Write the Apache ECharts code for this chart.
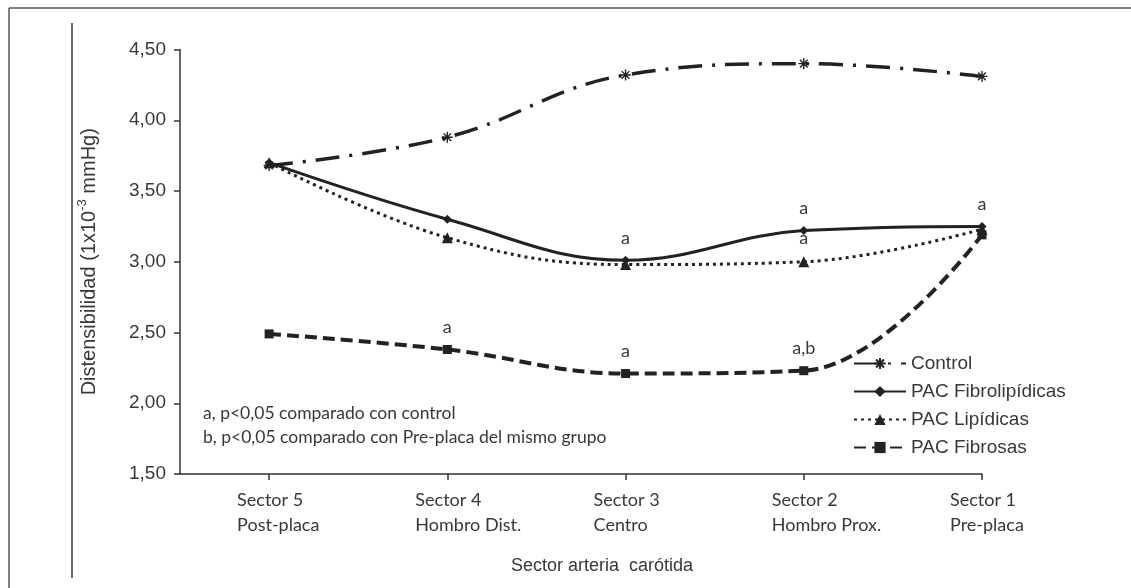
<!DOCTYPE html>
<html>
<head>
<meta charset="utf-8">
<script src="https://cdn.jsdelivr.net/npm/echarts@6/dist/echarts.min.js"></script>
<style>
  html, body { margin: 0; padding: 0; background: #fff; }
  #chart { width: 1131px; height: 588px; }
</style>
</head>
<body>
<div id="chart"></div>
<script>
const sectors = ["Sector 5", "Sector 4", "Sector 3", "Sector 2", "Sector 1"];
const sectorNames = ["Post-placa", "Hombro Dist.", "Centro", "Hombro Prox.", "Pre-placa"];
const yTicks = [1.5, 2.0, 2.5, 3.0, 3.5, 4.0, 4.5];

const control = [3.68, 3.88, 4.32, 4.40, 4.31];
const fibrolipidicas = [3.70, 3.30, 3.01, 3.22, 3.25];
const lipidicas = [3.70, 3.17, 2.98, 3.00, 3.23];
const fibrosas = [2.49, 2.38, 2.21, 2.23, 3.19];

// significance marks written above points
const fibrolipNotes = ["", "", "a", "a", "a"];
const lipNotes = ["", "", "", "a", ""];
const fibrosasNotes = ["", "a", "a", "a,b", ""];

const footNotes = [
  "a, p<0,05 comparado con control",
  "b, p<0,05 comparado con Pre-placa del mismo grupo",
];

const INK = "#222";
const TEXT = "#383838";
const ARIAL = "'Liberation Sans', Arial";
const ASTERISK = "path://M0,5L10,5M5,0L5,10M1.5,1.5L8.5,8.5M8.5,1.5L1.5,8.5";

function pointsOf(values, notes) {
  return values.map((v, i) => {
    const item = { value: [i, v] };
    if (notes && notes[i]) {
      item.label = { show: true, formatter: notes[i] };
    }
    return item;
  });
}

function noteLabel() {
  return {
    show: false,
    position: "top",
    distance: 9,
    color: TEXT,
    fontFamily: "Lato",
    fontSize: 18,
  };
}

function lineSeries(name, values, notes, symbol, size, lineType, width) {
  return {
    name,
    type: "line",
    smooth: 0.4,
    symbol,
    symbolSize: size,
    data: pointsOf(values, notes),
    lineStyle: { color: INK, width, type: lineType },
    itemStyle: { color: INK, borderColor: INK, borderWidth: symbol === ASTERISK ? 1.4 : 0 },
    label: noteLabel(),
    emphasis: { disabled: true },
  };
}

const chart = echarts.init(document.getElementById("chart"), null, { renderer: "canvas" });
chart.setOption({
  animation: false,
  backgroundColor: "#fff",
  grid: { left: 180, right: 149, top: 49.5, bottom: 114 },
  xAxis: {
    type: "value",
    min: -0.5,
    max: 4,
    axisLine: { onZero: false, lineStyle: { color: "#333", width: 1.5 } },
    axisTick: { customValues: [0, 1, 2, 3, 4], length: 6, lineStyle: { color: "#333", width: 1.5 } },
    splitLine: { show: false },
    axisLabel: {
      customValues: [0, 1, 2, 3, 4],
      margin: 14,
      formatter: (v) => `{l|${sectors[v]}}\n{l|${sectorNames[v]}}`,
      rich: {
        l: { width: 64, align: "left", fontFamily: "Lato", fontSize: 18, lineHeight: 25, color: TEXT },
      },
    },
  },
  yAxis: {
    type: "value",
    min: yTicks[0],
    max: yTicks[yTicks.length - 1],
    interval: 0.5,
    axisLine: { show: true, onZero: false, lineStyle: { color: "#333", width: 1.5 } },
    axisTick: { show: true, length: 6, lineStyle: { color: "#333", width: 1.5 } },
    splitLine: { show: false },
    axisLabel: {
      margin: 14,
      color: TEXT,
      fontFamily: ARIAL,
      fontSize: 19,
      formatter: (v) => v.toFixed(2).replace(".", ","),
    },
    name: "{n|Distensibilidad (1x10}{s|-3}{n| mmHg)}",
    nameLocation: "middle",
    nameGap: 78,
    nameTextStyle: {
      rich: {
        n: { fontFamily: ARIAL, fontSize: 20, color: TEXT, lineHeight: 26 },
        s: { fontFamily: ARIAL, fontSize: 13, color: TEXT, verticalAlign: "bottom", padding: [0, 0, 13, 0] },
      },
    },
  },
  legend: {
    orient: "vertical",
    left: 853,
    top: 354,
    padding: 0,
    itemWidth: 52,
    itemHeight: 14,
    itemGap: 9,
    textStyle: { color: TEXT, fontFamily: ARIAL, fontSize: 19 },
    data: ["Control", "PAC Fibrolipídicas", "PAC Lipídicas", "PAC Fibrosas"],
  },
  graphic: [
    { type: "line", shape: { x1: 9, y1: 8, x2: 1131, y2: 8 }, style: { stroke: "#555", lineWidth: 1.5 } },
    { type: "line", shape: { x1: 9, y1: 8, x2: 9, y2: 588 }, style: { stroke: "#555", lineWidth: 1.5 } },
    { type: "line", shape: { x1: 72, y1: 23, x2: 72, y2: 578 }, style: { stroke: "#333", lineWidth: 1.5 } },
    {
      type: "text",
      left: 203,
      top: 401,
      style: { text: footNotes.join("\n"), fill: TEXT, font: "17.5px Lato", lineHeight: 24 },
    },
    {
      type: "text",
      x: 602,
      y: 566,
      style: { text: "Sector arteria  carótida", fill: TEXT, font: "18px 'Liberation Sans', Arial", align: "center", verticalAlign: "middle" },
    },
  ],
  series: [
    lineSeries("Control", control, null, ASTERISK, 11, [24, 10, 3, 10], 3.5),
    lineSeries("PAC Fibrolipídicas", fibrolipidicas, fibrolipNotes, "diamond", 9, "solid", 3),
    lineSeries("PAC Lipídicas", lipidicas, lipNotes, "triangle", 11, [3, 4], 3),
    lineSeries("PAC Fibrosas", fibrosas, fibrosasNotes, "rect", 9, [12, 6], 4),
  ],
});
</script>
</body>
</html>
